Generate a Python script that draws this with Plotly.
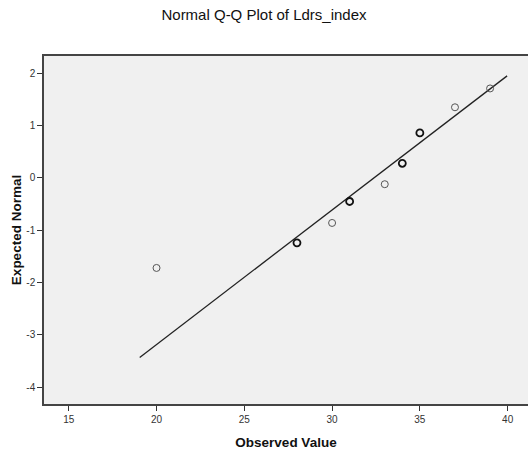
import plotly.graph_objects as go

# Data
observed = [20, 28, 30, 31, 33, 34, 35, 37, 39]
expected = [-1.72, -1.24, -0.86, -0.45, -0.12, 0.28, 0.86, 1.35, 1.71]
duplicated = [False, True, False, True, False, True, True, False, False]

line_x = [19.04, 39.97]
line_y = [-3.43, 1.95]

x_ticks = [15, 20, 25, 30, 35, 40]
y_ticks = [-4, -3, -2, -1, 0, 1, 2]
y_tick_labels = ["-4", "-3", "-2", "-1", "0", "1", "2"]

title_text = "Normal Q-Q Plot of Ldrs_index"
x_title = "Observed Value"
y_title = "Expected Normal"

W, H = 528, 450

fig = go.Figure()
fig.add_trace(go.Scatter(
    x=line_x, y=line_y, mode="lines",
    line=dict(color="#222222", width=1.3),
    hoverinfo="skip", showlegend=False,
))
fig.add_trace(go.Scatter(
    x=observed, y=expected, mode="markers",
    marker=dict(
        symbol="circle-open", size=7,
        color=["#111111" if d else "#555555" for d in duplicated],
        line=dict(width=[1.8 if d else 1.0 for d in duplicated]),
    ),
    showlegend=False,
))

fig.update_layout(
    width=W, height=H,
    margin=dict(l=43.5, r=0, t=56, b=46, pad=0),
    paper_bgcolor="white",
    plot_bgcolor="#f0f0f0",
    font=dict(family="Liberation Sans, Arial, sans-serif", color="#333333", size=10),
    title=dict(text=title_text, x=264 / W, xanchor="center",
               y=1 - 15 / H, yanchor="middle",
               font=dict(size=15, color="#111111", family="Liberation Sans, Arial, sans-serif")),
    showlegend=False,
)

fig.update_xaxes(
    range=[13.59, 41.16], tickvals=x_ticks, ticks="outside", ticklen=5,
    tickcolor="#333333", showgrid=False, zeroline=False,
    showline=True, linecolor="#444444", linewidth=1.5, mirror=True,
    title=dict(text="<b>" + x_title + "</b>", standoff=14,
               font=dict(size=13.5, color="#111111")),
)
fig.update_yaxes(
    range=[-4.32, 2.33], tickvals=y_ticks, ticktext=y_tick_labels,
    ticks="outside", ticklen=5,
    tickcolor="#333333", showgrid=False, zeroline=False,
    showline=True, linecolor="#444444", linewidth=1.5, mirror=False,
    title=dict(text="<b>" + y_title + "</b>", standoff=2,
               font=dict(size=13.5, color="#111111")),
)

fig.write_html(
    "out.html",
    config={"displayModeBar": False},
    post_script="document.body.style.margin='0';document.body.style.overflow='hidden';",
)
